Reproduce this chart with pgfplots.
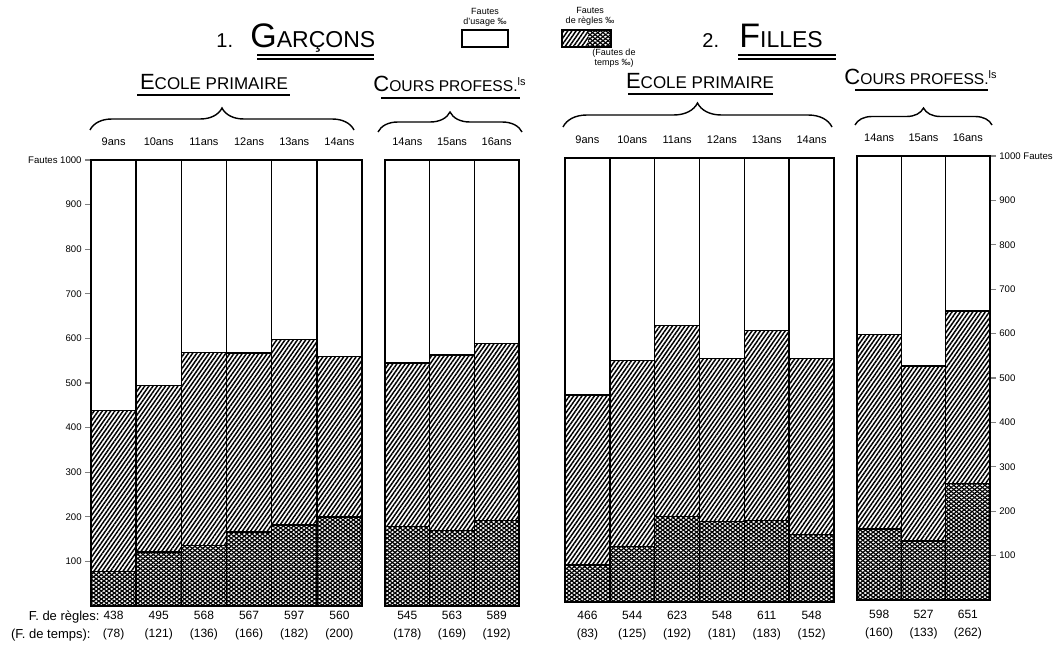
\documentclass[border=0pt]{standalone}
\usepackage{fontspec}
\setmainfont{Liberation Sans}
\usepackage{pgfplots}
\pgfplotsset{compat=1.18}
\usetikzlibrary{patterns.meta,decorations.pathreplacing}

\tikzset{
  hachure/.style={fill=white,
    postaction={pattern={Lines[angle=55,distance=1.7pt,line width=0.75pt]}}},
  quadrille/.style={fill=white,
    postaction={pattern={Lines[angle=38,distance=1.6pt,line width=0.6pt]}},
    postaction={pattern={Lines[angle=-38,distance=1.6pt,line width=0.6pt]}}},
  trait/.style={line width=0.7pt},
  acc/.style={trait, decorate, decoration={brace, amplitude=#1}},
  age/.style={font=\fontsize{5.5}{6}\selectfont, anchor=base, yshift=7.5pt},
}
\pgfplotsset{
  panneau/.style={
    scale only axis, anchor=south west,
    ymin=0, ymax=1000,
    enlargelimits=false, clip=false,
    axis line style={line width=0.8pt},
    xtick=data, xtick style={draw=none},
    xticklabel style={align=center, font=\fontsize{6}{9}\selectfont,
      inner sep=0pt, yshift=-4.5pt},
    ytick=\empty,
    /pgf/number format/assume math mode=true,
  },
  usage/.style={ybar, bar width=1, bar shift=0pt, draw=black, line width=0.7pt, fill=white},
  regles/.style={ybar, bar width=1, bar shift=0pt, draw=black, line width=0.7pt, hachure},
  temps/.style={ybar, bar width=1, bar shift=0pt, draw=black, line width=0.7pt, quadrille},
  echelle/.style={
    ytick={100,200,...,1000}, tick align=outside, major tick length=3pt,
    ytick style={line width=0.6pt},
    yticklabel style={font=\fontsize{4.8}{5}\selectfont, inner sep=1.5pt},
    xticklabel style={yshift=3pt},
  },
}

\begin{document}
\begin{tikzpicture}

% 1. Garcons - Ecole primaire
\begin{axis}[panneau, echelle, at={(45.5pt,-303pt)},
  width=135.5pt, height=223pt, xmin=-0.5, xmax=5.5,
  ytick pos=left, xticklabel style={yshift=2pt},
  yticklabels={100,200,300,400,500,600,700,800,900,{Fautes 1000}},
  xticklabels={{438\\(78)},{495\\(121)},{568\\(136)},{567\\(166)},{597\\(182)},{560\\(200)}}]
  \addplot[usage] coordinates {(0,1000) (1,1000) (2,1000) (3,1000) (4,1000) (5,1000)};
  \addplot[regles] coordinates {(0,438) (1,495) (2,568) (3,567) (4,597) (5,560)};
  \addplot[temps] coordinates {(0,78) (1,121) (2,136) (3,166) (4,182) (5,200)};
  \node[age] at (axis cs:0,1000) {9ans};
  \node[age] at (axis cs:1,1000) {10ans};
  \node[age] at (axis cs:2,1000) {11ans};
  \node[age] at (axis cs:3,1000) {12ans};
  \node[age] at (axis cs:4,1000) {13ans};
  \node[age] at (axis cs:5,1000) {14ans};
\end{axis}

% 1. Garcons - Cours professionnels
\begin{axis}[panneau, at={(192.5pt,-303pt)},
  width=67pt, height=223pt, xmin=-0.5, xmax=2.5,
  xticklabel style={yshift=2pt},
  xticklabels={{545\\(178)},{563\\(169)},{589\\(192)}}]
  \addplot[usage] coordinates {(0,1000) (1,1000) (2,1000)};
  \addplot[regles] coordinates {(0,545) (1,563) (2,589)};
  \addplot[temps] coordinates {(0,178) (1,169) (2,192)};
  \node[age] at (axis cs:0,1000) {14ans};
  \node[age] at (axis cs:1,1000) {15ans};
  \node[age] at (axis cs:2,1000) {16ans};
\end{axis}

% 2. Filles - Ecole primaire
\begin{axis}[panneau, at={(282.5pt,-301pt)},
  width=134.5pt, height=222pt, xmin=-0.5, xmax=5.5,
  xticklabels={{466\\(83)},{544\\(125)},{623\\(192)},{548\\(181)},{611\\(183)},{548\\(152)}}]
  \addplot[usage] coordinates {(0,1000) (1,1000) (2,1000) (3,1000) (4,1000) (5,1000)};
  \addplot[regles] coordinates {(0,466) (1,544) (2,623) (3,548) (4,611) (5,548)};
  \addplot[temps] coordinates {(0,83) (1,125) (2,192) (3,181) (4,183) (5,152)};
  \node[age] at (axis cs:0,1000) {9ans};
  \node[age] at (axis cs:1,1000) {10ans};
  \node[age] at (axis cs:2,1000) {11ans};
  \node[age] at (axis cs:3,1000) {12ans};
  \node[age] at (axis cs:4,1000) {13ans};
  \node[age] at (axis cs:5,1000) {14ans};
\end{axis}

% 2. Filles - Cours professionnels
\begin{axis}[panneau, echelle, at={(428.5pt,-300pt)},
  width=66.5pt, height=222pt, xmin=-0.5, xmax=2.5,
  ytick pos=right, yticklabel pos=right, xticklabel style={yshift=-0.5pt},
  yticklabels={100,200,300,400,500,600,700,800,900,{1000 Fautes}},
  xticklabels={{598\\(160)},{527\\(133)},{651\\(262)}}]
  \addplot[usage] coordinates {(0,1000) (1,1000) (2,1000)};
  \addplot[regles] coordinates {(0,598) (1,527) (2,651)};
  \addplot[temps] coordinates {(0,160) (1,133) (2,262)};
  \node[age] at (axis cs:0,1000) {14ans};
  \node[age] at (axis cs:1,1000) {15ans};
  \node[age] at (axis cs:2,1000) {16ans};
\end{axis}

\begin{scope}[x=0.5pt,y=-0.5pt]
  % titres
  \node[anchor=base west, inner sep=0pt] at (216,48) {\fontsize{10}{10}\selectfont 1.};
  \node[anchor=base west, inner sep=0pt] at (250,48)
    {\fontsize{17}{17}\selectfont G\fontsize{11.5}{12}\selectfont ARÇONS};
  \draw[trait] (257,55) -- (374,55) (257,59) -- (374,59);
  \node[anchor=base west, inner sep=0pt] at (702,48) {\fontsize{10}{10}\selectfont 2.};
  \node[anchor=base west, inner sep=0pt] at (739,48)
    {\fontsize{17}{17}\selectfont F\fontsize{11.5}{12}\selectfont ILLES};
  \draw[trait] (738,55) -- (836,55) (738,59) -- (836,59);

  % legende
  \draw[trait] (462,30) rectangle (508,47);
  \path[hachure] (562,30) rectangle (588,47);
  \path[quadrille] (588,30) rectangle (611,47);
  \draw[trait] (562,30) rectangle (611,47);
  \node[font=\fontsize{4.5}{5}\selectfont, align=center, inner sep=0pt] at (485,17) {Fautes\\d'usage ‰};
  \node[font=\fontsize{4.5}{5}\selectfont, align=center, inner sep=0pt] at (590,16) {Fautes\\de règles ‰};
  \node[font=\fontsize{4.5}{5}\selectfont, align=center, inner sep=0pt] at (614,58) {(Fautes de\\temps ‰)};

  % en-tetes de groupes
  \node[anchor=base, inner sep=0pt] at (214,90)
    {{\fontsize{11}{11}\selectfont E}{\fontsize{8.5}{9}\selectfont COLE PRIMAIRE}};
  \draw[trait] (137,95) -- (290,95);
  \node[anchor=base, inner sep=0pt] at (450,91)
    {{\fontsize{11}{11}\selectfont C}{\fontsize{7.8}{9}\selectfont OURS PROFESS.\textsuperscript{ls}}};
  \draw[trait] (381,98) -- (520,98);
  \node[anchor=base, inner sep=0pt] at (700,89)
    {{\fontsize{11}{11}\selectfont E}{\fontsize{8.5}{9}\selectfont COLE PRIMAIRE}};
  \draw[trait] (628,94) -- (773,94);
  \node[anchor=base, inner sep=0pt] at (921,84)
    {{\fontsize{11}{11}\selectfont C}{\fontsize{7.8}{9}\selectfont OURS PROFESS.\textsuperscript{ls}}};
  \draw[trait] (855,90) -- (988,90);

  % accolades
  \draw[acc=11pt] (90,130) -- (354,130);
  \draw[acc=10pt] (378,132) -- (522,132);
  \draw[acc=12pt] (563,127) -- (832,127);
  \draw[acc=8.5pt] (855,125) -- (992,125);

  % libelles des lignes
  \node[anchor=base east, inner sep=0pt, font=\fontsize{6.5}{7}\selectfont] at (100,620) {F. de règles:};
  \node[anchor=base east, inner sep=0pt, font=\fontsize{6.5}{7}\selectfont] at (91,638) {(F. de temps):};

  \pgfresetboundingbox
  \path[use as bounding box] (0,0) rectangle (1054,658);
\end{scope}
\end{tikzpicture}
\end{document}
